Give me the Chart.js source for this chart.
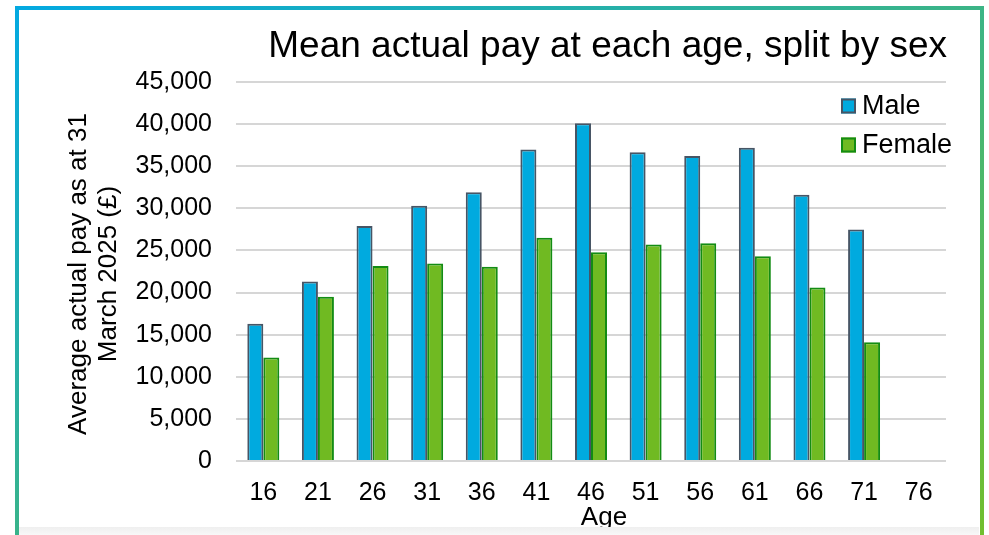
<!DOCTYPE html>
<html>
<head>
<meta charset="utf-8">
<script src="https://cdn.jsdelivr.net/npm/chart.js@4/dist/chart.umd.min.js"></script>
<style>
  html, body { margin: 0; padding: 0; background: #ffffff; width: 989px; height: 535px; overflow: hidden; }
  #frame { position: absolute; left: 15px; top: 6px; width: 969px; height: 560px; box-sizing: border-box;
           border: 4px solid; border-image: linear-gradient(to bottom right, #03a9e1, #74bf2a) 1; }
  #wrap { position: absolute; left: 0; top: 0; width: 989px; height: 535px; }
  #shade { position: absolute; left: 19px; top: 527px; width: 960px; height: 8px;
           background: linear-gradient(#efefef, #f8f8f8); z-index: 5; }
</style>
</head>
<body>
<div id="frame"></div>
<div id="wrap"><canvas id="c" width="989" height="535"></canvas></div>
<div id="shade"></div>
<script>
const chartTitle = "Mean actual pay at each age, split by sex";
const yTitleLines = ["Average actual pay as at 31", "March 2025 (£)"];
const xTitle = "Age";
const ages = ["16", "21", "26", "31", "36", "41", "46", "51", "56", "61", "66", "71", "76"];
const seriesNames = ["Male", "Female"];
const maleValues = [16300, 21300, 27900, 30300, 31900, 37000, 40100, 36650, 36200, 37200, 31600, 27500, null];
const femaleValues = [12300, 19500, 23150, 23450, 23050, 26500, 24800, 25700, 25850, 24300, 20600, 14100, null];
const yMin = 0, yMax = 45000, yStep = 5000;

const FONT = "'Liberation Sans', Arial, sans-serif";
const fills = ["#00aadf", "#70ba22"];
const borders = ["#475565", "#138c13"];

const overlay = {
  id: 'overlay',
  afterDraw(chart) {
    const ctx = chart.ctx;
    ctx.save();
    ctx.fillStyle = '#000';
    // title
    ctx.font = "37px " + FONT;
    ctx.textAlign = 'right';
    ctx.textBaseline = 'alphabetic';
    ctx.fillText(chartTitle, 947, 57);
    // y title
    ctx.save();
    ctx.translate(94, 274);
    ctx.rotate(-Math.PI / 2);
    ctx.font = "26px " + FONT;
    ctx.textAlign = 'center';
    ctx.textBaseline = 'middle';
    ctx.fillText(yTitleLines[0], 0, -15);
    ctx.fillText(yTitleLines[1], 0, 15);
    ctx.restore();
    // x title
    ctx.font = "26px " + FONT;
    ctx.textAlign = 'center';
    ctx.textBaseline = 'alphabetic';
    ctx.fillText(xTitle, 604, 525);
    // legend
    const items = chart.data.datasets;
    const ys = [106, 145];
    items.forEach((ds, i) => {
      ctx.fillStyle = ds.backgroundColor;
      ctx.fillRect(841, ys[i] - 7.5, 15, 15);
      ctx.strokeStyle = ds.borderColor;
      ctx.lineWidth = 2;
      ctx.strokeRect(842, ys[i] - 6.5, 13, 13);
      ctx.fillStyle = '#000';
      ctx.font = "27px " + FONT;
      ctx.textAlign = 'left';
      ctx.textBaseline = 'middle';
      ctx.fillText(ds.label, 862, ys[i] + 1);
    });
    ctx.restore();
  }
};

new Chart(document.getElementById('c'), {
  type: 'bar',
  data: {
    labels: ages,
    datasets: [
      { label: seriesNames[0], data: maleValues, backgroundColor: fills[0], borderColor: borders[0], borderWidth: 2 },
      { label: seriesNames[1], data: femaleValues, backgroundColor: fills[1], borderColor: borders[1], borderWidth: 2 }
    ]
  },
  options: {
    responsive: false,
    devicePixelRatio: 1,
    animation: false,
    categoryPercentage: 0.586,
    barPercentage: 1.0,
    layout: { padding: { left: 0, right: 43, top: 82, bottom: 0 } },
    plugins: { legend: { display: false }, title: { display: false }, tooltip: { enabled: false } },
    scales: {
      x: {
        grid: { display: false, drawTicks: false },
        border: { display: false },
        ticks: { color: '#000', font: { family: FONT, size: 25 }, padding: 17, maxRotation: 0, autoSkip: false },
        afterFit(s) { s.height = 74; }
      },
      y: {
        min: yMin, max: yMax,
        grid: { color: '#d6d6d6', lineWidth: 2, drawTicks: false },
        border: { display: false },
        ticks: { stepSize: yStep, color: '#000', font: { family: FONT, size: 25 }, padding: 24,
                 callback: v => v.toLocaleString('en-US') },
        afterFit(s) { s.width = 236; }
      }
    }
  },
  plugins: [overlay]
});
</script>
</body>
</html>
